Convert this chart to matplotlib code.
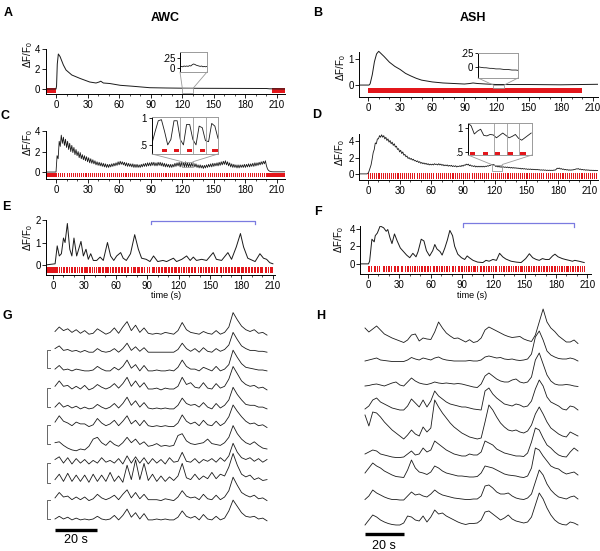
import numpy as np
import matplotlib.pyplot as plt
from matplotlib.patches import Rectangle, ConnectionPatch

plt.rcParams['font.family'] = ['Liberation Sans', 'DejaVu Sans']
plt.rcParams['mathtext.default'] = 'regular'
plt.rcParams['font.size'] = 7

RED = '#e3161b'
INK = '#1a1a1a'
GRAY = '#9a9a9a'
BLUE = '#7b7be0'

# ---------------- data ----------------
# A: AWC, odor removal at 0 s
a_t = [-10, 0, 0.5, 1.2, 2.2, 3.8, 7, 9.5, 15, 23, 32, 38, 41, 42.5, 45, 51, 61, 73.5,
       89, 105, 121, 137, 168, 200, 203, 218]
a_v = [0, 0, 0.3, 2.5, 3.5, 3.25, 2.4, 1.9, 1.4, 1.05, 0.7, 0.6, 0.7, 0.78, 0.6, 0.55, 0.37, 0.27,
       0.13, 0.1, 0.08, 0.07, 0.06, 0.05, 0.02, 0]
a_stim = [(-10, 10), (205, 13)]
a_inset = [0.03, 0.04, 0.03, 0.05, 0.04, 0.05, 0.04, 0.06, 0.05, 0.08, 0.1,
           0.09, 0.07, 0.06, 0.05, 0.04, 0.05, 0.03, 0.04, 0.03, 0.04]

# B: ASH, odor on 0-200 s
b_t = [-8.4, 1, 2, 4, 6, 8, 10, 12, 15, 20, 25, 30, 35, 40, 45, 50, 60, 70, 80, 90, 95, 98,
       102, 110, 120, 150, 180, 215]
b_v = [0, 0, 0.05, 0.4, 0.9, 1.2, 1.3, 1.22, 1.1, 0.88, 0.72, 0.6, 0.45, 0.35, 0.26, 0.19,
       0.12, 0.08, 0.06, 0.04, 0.06, 0.08, 0.06, 0.04, 0.02, 0.02, 0.01, 0.03]
b_stim = [(0, 200)]
b_inset = [0.01, 0, -0.005, -0.01, -0.01, -0.015, -0.02, -0.02, -0.025, -0.03, -0.03,
           -0.03, -0.035, -0.04, -0.04, -0.04, -0.045, -0.05, -0.05, -0.05, -0.055]

# C: AWC, 1 s pulses every 2 s (values per second, t = 0..218)
c_pre = [0] * 10
c_v = [0, 1.6, 1.3, 3.0, 2.5, 3.6, 2.8, 3.4, 2.6, 3.2,
       2.4, 3.0, 2.2, 2.8, 2.0, 2.6, 1.9, 2.4, 1.7, 2.2,
       1.6, 2.0, 1.4, 1.9, 1.3, 1.7, 1.2, 1.6, 1.1, 1.5,
       1.0, 1.4, 0.9, 1.3, 0.85, 1.2, 0.8, 1.1, 0.7, 1.0,
       0.65, 0.95, 0.6, 0.9, 0.55, 0.85, 0.5, 0.8, 0.45, 0.75,
       0.45, 0.75, 0.5, 0.8, 0.55, 0.85, 0.6, 0.9, 0.65, 1.0,
       0.7, 1.05, 0.75, 1.0, 0.7, 0.95, 0.6, 0.9, 0.55, 0.85,
       0.55, 0.8, 0.5, 0.8, 0.45, 0.75, 0.45, 0.75, 0.45, 0.7,
       0.45, 0.75, 0.5, 0.8, 0.55, 0.85, 0.55, 0.9, 0.6, 0.9,
       0.6, 0.95, 0.65, 0.95, 0.6, 0.9, 0.6, 0.95, 0.65, 0.95,
       0.6, 0.9, 0.55, 0.85, 0.5, 0.8, 0.5, 0.75, 0.45, 0.75,
       0.45, 0.75, 0.5, 0.85, 0.55, 0.9, 0.6, 0.95, 0.5, 0.95,
       0.5, 0.95, 0.48, 1.0, 0.5, 0.9, 0.5, 0.85, 0.5, 0.9,
       0.55, 0.85, 0.5, 0.8, 0.45, 0.7, 0.4, 0.7, 0.4, 0.65,
       0.35, 0.65, 0.4, 0.7, 0.45, 0.75, 0.5, 0.8, 0.5, 0.85,
       0.55, 0.85, 0.6, 0.9, 0.6, 0.95, 0.65, 1.0, 0.7, 1.05,
       0.75, 1.1, 0.7, 1.0, 0.6, 0.9, 0.5, 0.8, 0.45, 0.75,
       0.45, 0.7, 0.4, 0.7, 0.4, 0.7, 0.45, 0.7, 0.45, 0.75,
       0.45, 0.75, 0.5, 0.8, 0.5, 0.8, 0.55, 0.85, 0.55, 0.9,
       0.6, 0.9, 0.65, 0.95, 0.7, 1.0, 0.75, 1.05, 0.8, 1.1,
       0.6, 0.3, 0.15, 0.08, 0.05, 0.03, 0.02, 0.02, 0.02, 0.02,
       0.02, 0.02, 0.02, 0.02, 0.02, 0.02, 0.02, 0.02, 0.02]
c_solid = [(-10, 10), (200, 18)]
c_train = (0, 200)
c_in = [0.53, 0.75, 0.95, 0.97, 0.75, 0.5, 0.6, 0.95, 0.95, 0.6, 0.5,
        0.88, 0.88, 0.6, 0.5, 0.85, 0.82, 0.58, 0.56, 0.9, 0.85, 0.62]
c_in_pulses = [1.6, 3.5, 5.55, 7.6, 9.6]
c_in_marks = [4.53, 6.56, 8.53]

# D: ASH, same pulse train (values per second, t = 0..218)
d_pre = [0] * 8
d_v = [0.05, 0.3, 0.7, 1.1, 1.8, 2.6, 3.0, 3.8, 3.7, 4.3,
       4.3, 4.7, 4.5, 4.8, 4.5, 4.7, 4.3, 4.5, 4.1, 4.3,
       3.9, 4.1, 3.7, 3.9, 3.5, 3.7, 3.3, 3.4, 3.0, 3.1,
       2.7, 2.9, 2.5, 2.7, 2.3, 2.4, 2.1, 2.2, 1.9, 2.0,
       1.8, 1.9, 1.7, 1.8, 1.6, 1.65, 1.5, 1.6, 1.4, 1.5,
       1.3, 1.4, 1.25, 1.35, 1.2, 1.3, 1.15, 1.25, 1.1, 1.2,
       1.1, 1.2, 1.1, 1.25, 1.15, 1.2, 1.1, 1.25, 1.1, 1.2,
       1.05, 1.15, 1.0, 1.1, 1.0, 1.1, 0.95, 1.05, 0.95, 1.05,
       0.9, 1.0, 0.9, 1.0, 0.85, 0.95, 0.9, 1.0, 0.9, 1.05,
       0.95, 1.1, 1.05, 1.2, 1.1, 1.2, 1.0, 1.1, 0.95, 1.0,
       0.9, 1.0, 0.85, 0.95, 0.85, 0.95, 0.85, 0.95, 0.85, 0.95,
       0.85, 0.95, 0.9, 1.0, 0.95, 1.05, 1.05, 1.15, 1.1, 1.15,
       1.05, 0.9, 0.98, 0.85, 0.95, 0.82, 0.9, 0.78, 0.88, 0.8,
       0.85, 0.78, 0.85, 0.75, 0.82, 0.72, 0.8, 0.7, 0.78, 0.7,
       0.75, 0.68, 0.72, 0.65, 0.7, 0.6, 0.68, 0.6, 0.65, 0.58,
       0.62, 0.55, 0.6, 0.55, 0.6, 0.52, 0.58, 0.52, 0.56, 0.5,
       0.55, 0.5, 0.52, 0.46, 0.5, 0.45, 0.5, 0.44, 0.48, 0.42,
       0.46, 0.42, 0.46, 0.42, 0.45, 0.42, 0.48, 0.45, 0.55, 0.7,
       0.65, 0.72, 0.6, 0.65, 0.55, 0.6, 0.5, 0.55, 0.48, 0.52,
       0.45, 0.5, 0.45, 0.5, 0.48, 0.55, 0.55, 0.62, 0.6, 0.65,
       0.55, 0.6, 0.5, 0.55, 0.48, 0.52, 0.45, 0.5, 0.45, 0.48,
       0.42, 0.46, 0.42, 0.45, 0.4, 0.44, 0.4, 0.42, 0.4]
d_train = (0, 218)
d_in = [1.1, 1.04, 0.87, 0.93, 0.97, 0.84, 0.83, 0.86, 0.85, 0.79, 0.84,
        0.89, 0.84, 0.79, 0.82, 0.86, 0.78, 0.74, 0.79, 0.84, 0.89]
d_in_pulses = [0.27, 2.3, 4.27, 6.24, 8.27]
d_in_marks = [4.1, 6.13, 8.1]

PULSE_PERIOD = 2
PULSE_WIDTH = 1

# E: AWC, pseudo-random odor sequence
e_t = [-7, 2, 4, 6, 8, 10, 11.5, 13.7, 16, 18, 20, 22.6, 26.7, 29, 31.5, 33.7, 36, 38.5, 41.7,
       45, 48, 52, 55, 58, 60.8, 64.6, 67, 70, 74, 78, 81.5, 84.6, 89, 92.6, 96, 100, 105,
       108.5, 115, 118, 123, 127.6, 131, 134, 137, 142, 146.7, 153, 156, 161, 167, 170.5,
       175, 179, 182, 186, 193, 197.6, 201, 204, 207, 210]
e_v = [0, 0.05, 0.85, 0.4, 0.5, 1.2, 1.0, 1.85, 0.7, 0.4, 1.2, 0.4, 1.05, 0.4, 0.7, 0.25,
       0.5, 0.2, 0.2, 0.35, 0.2, 1.0, 0.4, 0.2, 0.4, 0.55, 0.3, 0.2, 0.5, 1.35, 0.7, 0.3,
       0.25, 0.15, 0.4, 0.15, 0.2, 0.15, 0.3, 0.15, 0.25, 0.4, 0.2, 0.35, 0.2, 0.25, 0.2,
       0.55, 0.25, 0.2, 0.55, 0.25, 0.8, 1.4, 0.8, 0.3, 0.15, 0.5, 0.3, 0.25, 0.1, 0.05]
e_span = (-7, 210)
e_off = [5, 7, 9, 11, 14, 16, 19, 22, 24, 26, 29, 33, 36, 38, 40, 42, 46, 49, 53, 55, 58,
         61, 64, 67, 70, 73, 75, 79, 83, 86, 88, 89, 91, 93, 94, 97, 99, 102, 105, 109,
         112, 115, 118, 121, 123, 126, 128, 131, 134, 137, 139, 142, 144, 147, 150, 153,
         155, 158, 161, 163, 166, 169, 172, 175, 179, 182, 185, 188, 191, 194, 197, 201,
         204, 206]
e_bracket = (93.5, 193, 1.96)

# F: ASH, pseudo-random odor sequence
f_t = [-7.6, 0.5, 1.6, 3.8, 6, 7, 9, 11.7, 15, 17.5, 19, 21, 23, 25.4, 28, 31, 34, 37, 40,
       43, 46, 48, 51, 53.6, 56, 59, 62, 64, 66, 69, 71, 73.6, 76, 78.4, 81, 83, 86, 89.5,
       92.6, 95, 97, 100.6, 105, 110, 113, 116, 119.6, 123, 126, 129, 132, 137, 142,
       146.6, 151, 154.5, 157.7, 161, 164, 167, 170, 173.5, 176.7, 179, 182, 186, 189,
       192.6, 195.8, 198, 202, 207]
f_v = [0, 0, 0.3, 2.8, 2.5, 3.2, 3.5, 4.3, 4.1, 3.7, 3.9, 3.0, 2.3, 3.4, 2.6, 1.8, 1.4,
       1.0, 0.7, 1.2, 0.8, 1.4, 2.8, 2.6, 1.5, 0.9, 1.5, 2.2, 1.7, 1.4, 1.0, 1.8, 2.7, 3.8,
       3.2, 2.0, 1.1, 0.7, 0.5, 0.9, 0.7, 0.4, 0.2, 0.15, 0.4, 0.3, 0.5, 0.4, 1.2, 0.8,
       0.55, 0.3, 0.2, 0.15, 0.6, 1.15, 0.7, 0.5, 0.4, 0.6, 0.5, 0.5, 0.9, 1.1, 0.8, 0.6,
       0.5, 0.4, 0.3, 0.4, 0.3, 0.15]
f_span = (0, 208)
f_off = [2, 4, 5, 8, 10, 12, 13, 16, 18, 21, 23, 24, 27, 30, 31, 34, 36, 39, 41, 43, 46,
         48, 50, 53, 56, 58, 60, 61, 64, 67, 69, 72, 74, 77, 79, 82, 84, 85, 88, 91, 93,
         95, 98, 100, 103, 105, 106, 109, 112, 114, 117, 119, 121, 124, 126, 128, 131,
         133, 136, 138, 140, 143, 145, 148, 150, 152, 155, 157, 160, 162, 165, 167, 169,
         172, 174, 177, 180, 182, 184, 187, 189, 192, 194, 197, 199, 202, 204, 206]
f_bracket = (90.7, 197.6, 4.6)

# G: AWC, 11 repeated trials (bracket units), sampled every 2 s over 100 s
g_t = np.arange(0, 101, 2)
g_traces = [
    [0.25, 0.5, 0.3, 0.4, 0.2, 0.35, 0.15, 0.3, 0.1, 0.15, 0.4, 0.25, 0.1, 0.2, 0.45, 0.15, 0.5,
     0.8, 0.3, 0.6, 0.2, 0.45, 0.15, 0.1, 0.15, 0.1, 0.2, 0.15, 0.1, 0.3, 0.75, 0.35, 0.2,
     0.15, 0.1, 0.25, 0.15, 0.1, 0.3, 0.1, 0.2, 0.5, 1.3, 0.9, 0.55, 0.35, 0.25, 0.35, 0.15,
     0.2, 0.05],
    [0.3, 0.45, 0.2, 0.25, 0.15, 0.2, 0.1, 0.2, 0.1, 0.1, 0.3, 0.15, 0.1, 0.15, 0.3, 0.1, 0.3,
     0.6, 0.2, 0.4, 0.15, 0.35, 0.1, 0.1, 0.1, 0.1, 0.1, 0.1, 0.1, 0.25, 0.6, 0.3, 0.15, 0.3,
     0.1, 0.35, 0.15, 0.1, 0.3, 0.15, 0.25, 0.5, 1.2, 0.8, 0.45, 0.3, 0.2, 0.2, 0.15, 0.15, 0.1],
    [0.2, 0.4, 0.15, 0.2, 0.1, 0.2, 0.15, 0.1, 0.1, 0.15, 0.35, 0.2, 0.1, 0.1, 0.3, 0.15, 0.35,
     0.7, 0.25, 0.45, 0.1, 0.4, 0.1, 0.1, 0.15, 0.1, 0.1, 0.15, 0.1, 0.3, 0.7, 0.35, 0.2, 0.2,
     0.1, 0.3, 0.2, 0.1, 0.35, 0.1, 0.2, 0.45, 1.25, 0.85, 0.5, 0.3, 0.25, 0.2, 0.15, 0.15, 0.1],
    [0.3, 0.6, 0.3, 0.35, 0.15, 0.3, 0.15, 0.35, 0.1, 0.2, 0.4, 0.25, 0.15, 0.25, 0.45, 0.2,
     0.45, 0.8, 0.3, 0.6, 0.25, 0.5, 0.15, 0.15, 0.2, 0.1, 0.2, 0.15, 0.15, 0.3, 0.8, 0.4, 0.5,
     0.25, 0.2, 0.5, 0.2, 0.15, 0.45, 0.2, 0.3, 0.7, 1.4, 1.0, 0.6, 0.4, 0.3, 0.35, 0.2, 0.25, 0.1],
    [0.2, 0.45, 0.2, 0.3, 0.15, 0.25, 0.1, 0.2, 0.1, 0.15, 0.35, 0.2, 0.1, 0.2, 0.4, 0.15, 0.4,
     0.75, 0.3, 0.55, 0.2, 0.45, 0.15, 0.1, 0.15, 0.1, 0.15, 0.1, 0.1, 0.3, 0.7, 0.4, 0.3, 0.35,
     0.2, 0.45, 0.2, 0.1, 0.4, 0.15, 0.3, 0.6, 1.3, 0.9, 0.6, 0.35, 0.3, 0.3, 0.2, 0.2, 0.1],
    [0.4, 0.75, 0.45, 0.35, 0.2, 0.4, 0.3, 0.3, 0.15, 0.25, 0.6, 0.35, 0.2, 0.3, 0.5, 0.2, 0.45,
     0.75, 0.3, 0.5, 0.2, 0.5, 0.2, 0.15, 0.2, 0.15, 0.2, 0.15, 0.15, 0.35, 0.8, 0.45, 0.3, 0.4,
     0.2, 0.5, 0.25, 0.2, 0.45, 0.2, 0.35, 0.7, 1.35, 1.0, 0.7, 0.45, 0.3, 0.35, 0.2, 0.25, 0.1],
    [0.5, 0.55, 0.35, 0.2, 0.1, 0.05, 0.15, 0.1, 0.3, 0.7, 0.8, 0.5, 0.35, 0.6, 0.4, 0.3, 0.5,
     0.8, 0.5, 0.7, 0.4, 0.55, 0.3, 0.35, 0.45, 0.3, 0.35, 0.3, 0.35, 0.9, 1.0, 0.6, 0.45, 0.4,
     0.45, 0.5, 0.7, 0.45, 0.4, 0.35, 0.5, 0.8, 1.45, 1.0, 0.7, 0.5, 0.4, 0.55, 0.35, 0.2, 0.15],
    [0.4, 0.55, 0.2, 0.5, 0.15, 0.45, 0.2, 0.4, 0.15, 0.35, 0.2, 0.5, 0.25, 0.35, 0.2, 0.45,
     0.15, 0.6, 0.2, 0.55, 0.2, 0.5, 0.15, 0.45, 0.2, 0.4, 0.15, 0.5, 0.25, 0.3, 0.8, 0.3, 0.25,
     0.45, 0.2, 0.4, 0.3, 0.45, 0.25, 0.5, 0.3, 0.6, 1.3, 0.8, 0.5, 0.4, 0.5, 0.3, 0.45, 0.25, 0.4],
    [0.3, 0.6, 0.2, 0.65, 0.2, 0.55, 0.2, 0.55, 0.15, 0.6, 0.2, 0.55, 0.2, 0.7, 0.2, 0.5, 0.15,
     1.1, 0.3, 1.4, 0.3, 1.2, 0.25, 0.6, 0.2, 0.5, 0.2, 0.45, 0.25, 0.5, 1.2, 0.4, 0.3, 0.6,
     0.3, 0.5, 0.35, 0.7, 0.35, 0.6, 0.5, 1.0, 1.75, 1.1, 0.6, 0.45, 0.55, 0.3, 0.4, 0.25, 0.3],
    [0.3, 0.6, 0.35, 0.4, 0.2, 0.35, 0.2, 0.35, 0.15, 0.25, 0.5, 0.3, 0.2, 0.3, 0.45, 0.2, 0.5,
     0.75, 0.3, 0.6, 0.25, 0.5, 0.2, 0.2, 0.2, 0.15, 0.25, 0.2, 0.15, 0.35, 0.7, 0.4, 0.3, 0.35,
     0.2, 0.5, 0.25, 0.2, 0.45, 0.2, 0.35, 0.7, 1.45, 1.0, 0.6, 0.45, 0.35, 0.45, 0.25, 0.3, 0.15],
    [0.15, 0.3, 0.15, 0.25, 0.1, 0.2, 0.1, 0.15, 0.1, 0.15, 0.3, 0.15, 0.1, 0.15, 0.35, 0.1,
     0.35, 0.7, 0.25, 0.5, 0.15, 0.45, 0.1, 0.1, 0.15, 0.1, 0.15, 0.1, 0.1, 0.25, 0.6, 0.3, 0.2,
     0.3, 0.1, 0.4, 0.15, 0.1, 0.3, 0.1, 0.2, 0.6, 1.2, 0.85, 0.5, 0.3, 0.25, 0.3, 0.15, 0.2, 0.05],
]

# H: ASH, 9 repeated trials (a.u.), sampled every 2 s over 110 s
h_t = np.arange(0, 111, 2)
h_traces = [
    [16, 12, 15, 18, 14, 10, 8, 6, 4.5, 3, 1.5, 4, 9, 10, 3, 6, 5, 4.5, 12, 22, 16, 11, 8, 5.5,
     6, 4, 2, 4.3, 1.5, 2.5, 6, 14, 17, 15, 13, 11, 9, 7.5, 6.5, 7, 7.5, 5, 3.5, 2.5, 9, 22, 35,
     22, 16, 12.5, 8, 5, 2, 2, 4, 0.5],
    [1, 2, 3, 4, 2, 1.5, 1, 0.5, 0.5, 0.5, 0.5, 2, 4.5, 3, 2, 4, 3, 2, 4, 5, 3, 2, 1.5, 1, 1, 1,
     1, 1.5, 1, 1, 2, 5, 6, 5, 4, 4.5, 3, 2.5, 3, 2, 1.5, 2, 3, 8, 25, 31, 22, 11, 7, 5, 3.5, 3,
     3, 4, 3, 1],
    [2, 2.5, 3.5, 4, 3, 2, 3.5, 5, 6, 3, 2, 6, 10, 7, 5, 4, 3.5, 4.5, 6, 5, 4.5, 5, 4.5, 4, 4.5,
     4, 3, 2, 1, 0.5, 4, 12, 15, 12, 9, 7, 6, 6, 8, 9, 6, 5, 6, 11, 28, 35, 24, 13, 7, 4, 3, 3,
     3.5, 3, 2, 1.5],
    [2, 5, 11, 13, 9, 7, 5, 3, 2, 1, 1, 5, 12, 8, 4, 11, 4, 10, 20, 15, 12, 9, 7, 6, 5, 4, 4, 3,
     2, 1.5, 1, 20, 23, 17, 13, 10, 7, 6, 5, 7, 6, 4, 5, 10, 22, 31, 25, 14, 9, 7, 5, 2, 1, 5,
     4, 1],
    [25, 14, 28, 27, 23, 18, 14, 10, 7, 4, 1, 5, 10, 6, 4, 13, 8, 12, 40, 33, 27, 22, 17, 13,
     10, 7, 5, 3, 2, 1, 2, 18, 35, 30, 23, 17, 13, 10, 9, 10, 8, 7, 9, 15, 26, 33, 26, 18, 12,
     9, 6, 4, 3, 8, 6, 4],
    [4, 6, 8, 7, 4, 3, 2, 1, 0.5, 0.5, 1, 4, 7, 3, 4, 10, 6, 8, 17, 14, 11, 8, 6, 4, 3, 2, 2, 4,
     3, 3, 6, 17, 15, 13, 9, 7, 5, 4, 3, 2, 2, 1.5, 5, 16, 30, 28, 20, 13, 10, 6, 3, 1.5, 1, 6,
     10, 7],
    [5, 10, 15, 12, 10, 7, 5, 3, 1.5, 1, 0.5, 8, 18, 10, 6, 5, 3.5, 6, 12, 10, 7, 5, 4, 3, 2, 2,
     1.5, 1, 1, 1.5, 5, 12, 11, 10, 8, 6, 4, 3, 2.5, 2, 1, 0.5, 2, 10, 30, 28, 22, 17, 12, 10,
     9, 6, 4, 5, 6, 3],
    [0.5, 4, 10, 7, 5, 3, 1.5, 0.5, 0.5, 0, 0, 4, 8, 5, 6, 4, 3, 6, 10, 7, 5, 4, 3, 2, 1.5, 1,
     0.5, 0.5, 1, 1, 4, 14, 15, 12, 8, 6, 6, 7, 4, 2, 1, 0.5, 2, 6, 18, 30, 25, 16, 10, 6, 3,
     2, 1, 3, 4, 1],
    [0, 5, 10, 8, 5, 3, 1.5, 0.5, 0, 0, 2, 9, 8, 5, 4, 9, 3, 8, 15, 11, 12, 9, 7, 5, 3, 1.5,
     0.5, 1.5, 1.5, 2, 5, 13, 14, 11, 8, 5, 7, 10, 6, 4, 3, 2, 3, 8, 20, 32, 26, 17, 10, 5, 2,
     0.5, 0, 3, 2, 0],
]

# ---------------- layout (pixels of the 600 x 551 canvas) ----------------
W, H = 600, 551
fig = plt.figure(figsize=(W / 100, H / 100), dpi=100)


def px_axes(x0, y0, x1, y1):
    return fig.add_axes([x0 / W, 1 - y1 / H, (x1 - x0) / W, (y1 - y0) / H])


def px_text(x, y, s, **kw):
    fig.text(x / W, 1 - y / H, s, **kw)


def style_axes(ax, yticks):
    for side in ['top', 'right']:
        ax.spines[side].set_visible(False)
    for side in ['left', 'bottom']:
        ax.spines[side].set_linewidth(0.7)
    ax.set_xticks(range(0, 211, 30))
    ax.set_xticks(range(0, 211, 10), minor=True)
    ax.set_yticks(yticks)
    ax.tick_params(length=3, width=0.6, pad=1.5, labelsize=7)
    ax.tick_params(which='minor', length=1.5, width=0.5)
    ax.tick_params(axis='y', pad=0.8)


def add_inset(ax, box, xs, ys, ylim, yticks, ylabels, zoom_box):
    ins = px_axes(*box)
    ins.plot(xs, ys, color=INK, lw=0.6)
    ins.set_xlim(xs[0], xs[-1])
    ins.set_ylim(*ylim)
    ins.set_xticks([])
    ins.set_yticks(yticks)
    ins.set_yticklabels(ylabels)
    ins.tick_params(length=2.5, width=0.6, pad=1, labelsize=7)
    for side in ['top', 'right', 'bottom']:
        ins.spines[side].set_color(GRAY)
        ins.spines[side].set_linewidth(0.7)
    ins.spines['left'].set_linewidth(0.7)
    t0, t1, v0, v1 = zoom_box
    ax.add_patch(Rectangle((t0, v0), t1 - t0, v1 - v0, fill=False, ec=GRAY, lw=0.6, zorder=4))
    for fx, tx in [(0, t0), (1, t1)]:
        fig.add_artist(ConnectionPatch(xyA=(fx, 0), coordsA='axes fraction', axesA=ins,
                                       xyB=(tx, v1), coordsB='data', axesB=ax,
                                       color=GRAY, lw=0.6))
    return ins


def pulse_train(ax, span, y0, h):
    onsets = np.arange(span[0], span[1], PULSE_PERIOD)
    ax.broken_barh([(s, PULSE_WIDTH) for s in onsets], (y0, h), facecolor=RED, lw=0)


def random_train(ax, span, off, y0, h):
    on = [s for s in range(span[0], span[1]) if s not in off]
    ax.broken_barh([(s, 1) for s in on], (y0, h), facecolor=RED, lw=0)


# ---- A ----
axA = px_axes(45.5, 46, 285.4, 94)
axA.broken_barh(a_stim, (-0.42, 0.5), facecolor=RED, lw=0)
axA.plot(a_t, a_v, color=INK, lw=0.7)
axA.set_xlim(-10, 218)
axA.set_ylim(-0.5, 4.3)
style_axes(axA, [0, 2, 4])
axA.spines['left'].set_bounds(-0.5, 4)
add_inset(axA, (180, 52, 207, 72), np.arange(120, 130.1, 0.5), a_inset,
          (-0.1, 0.4), [0, 0.25], ['0', '.25'], (120, 130.5, -0.35, 0.1))

# ---- B ----
axB = px_axes(359, 50, 598.4, 97)
axB.broken_barh(b_stim, (-0.31, 0.19), facecolor=RED, lw=0)
axB.plot(b_t, b_v, color=INK, lw=0.7)
axB.set_xlim(-8.4, 215)
axB.set_ylim(-0.46, 1.35)
style_axes(axB, [0, 1])
axB.spines['left'].set_bounds(-0.46, 1.27)
add_inset(axB, (478, 53, 518, 78), np.arange(120, 130.1, 0.5), b_inset,
          (-0.19, 0.25), [0, 0.25], ['0', '.25'], (117, 127, -0.11, 0.0))

# ---- C ----
axC = px_axes(45.5, 129, 285.4, 179)
axC.broken_barh(c_solid, (-0.5, 0.4), facecolor=RED, lw=0)
pulse_train(axC, c_train, -0.5, 0.4)
axC.plot(np.arange(-10, 219), c_pre + c_v, color=INK, lw=0.6)
axC.set_xlim(-10, 218)
axC.set_ylim(-0.68, 4.2)
style_axes(axC, [0, 2, 4])
axC.spines['left'].set_bounds(-0.68, 4)
insC = add_inset(axC, (152, 117, 218, 154), np.arange(0, 10.6, 0.5), c_in,
                 (0.33, 1.02), [0.5, 1], ['.5', '1'], (120, 130, 0.45, 1.0))
insC.broken_barh([(s, 0.85) for s in c_in_pulses], (0.36, 0.065), facecolor=RED, lw=0)
for m in c_in_marks:
    insC.axvline(m, color=GRAY, lw=0.6)

# ---- D ----
axD = px_axes(359, 134, 598.4, 180)
pulse_train(axD, d_train, -0.65, 0.75)
axD.plot(np.arange(-8, 219), d_pre + d_v, color=INK, lw=0.6)
axD.set_xlim(-8.4, 218)
axD.set_ylim(-0.75, 4.9)
style_axes(axD, [0, 2, 4])
axD.spines['left'].set_bounds(-0.75, 4.9)
insD = add_inset(axD, (468, 123, 532, 155), np.arange(0, 10.1, 0.5), d_in,
                 (0.43, 1.1), [0.5, 1], ['.5', '1'], (117, 127, 0.4, 1.15))
insD.set_xlim(0, 10.13)
insD.broken_barh([(s, 0.85) for s in d_in_pulses], (0.44, 0.06), facecolor=RED, lw=0)
for m in d_in_marks:
    insD.axvline(m, color=GRAY, lw=0.6)

# ---- E ----
axE = px_axes(46, 219, 275, 275)
random_train(axE, e_span, e_off, -0.36, 0.27)
axE.plot(e_t, e_v, color=INK, lw=0.7)
axE.set_xlim(-6.7, 212)
axE.set_ylim(-0.45, 2.05)
style_axes(axE, [0, 1, 2])
axE.spines['left'].set_bounds(-0.45, 2)
x0, x1, yb = e_bracket
axE.plot([x0, x0, x1, x1], [yb - 0.12, yb, yb, yb - 0.12], color=BLUE, lw=0.9, clip_on=False)

# ---- F ----
axF = px_axes(360, 226, 591, 274)
random_train(axF, f_span, f_off, -0.91, 0.68)
axF.plot(f_t, f_v, color=INK, lw=0.7)
axF.set_xlim(-7.6, 213.5)
axF.set_ylim(-1.15, 4.3)
style_axes(axF, [0, 2, 4])
axF.spines['left'].set_bounds(-1.15, 4.3)
x0, x1, yb = f_bracket
axF.plot([x0, x0, x1, x1], [yb - 0.45, yb, yb, yb - 0.45], color=BLUE, lw=0.9, clip_on=False)

# ---- G ----
g_base = [336, 354, 372.7, 391.7, 410.7, 429.3, 451.7, 466.7, 485, 503.3, 521.7]
g_unit = 18
g_brackets = [(350, 368), (388, 407), (425, 444), (463, 483), (500, 519)]
axG = px_axes(40, 300, 270, 551)
axG.set_xlim((40 - 55) / 2.12, (270 - 55) / 2.12)
axG.set_ylim(551, 300)
axG.axis('off')
for base, vals in zip(g_base, g_traces):
    axG.plot(g_t, base - np.array(vals) * g_unit, color=INK, lw=0.6)
for y1, y2 in g_brackets:
    axG.plot([-2.36, -3.77, -3.77, -2.36], [y1, y1, y2, y2], color='#666666', lw=0.7)
axG.plot([0, 20], [530, 530], color='black', lw=2.4, solid_capstyle='butt')
axG.text(10, 540, '20 s', ha='center', va='center', fontsize=9)

# ---- H ----
h_base = [344, 362, 388, 411, 440, 458, 478, 500, 525]
axH = px_axes(355, 300, 590, 551)
axH.set_xlim((355 - 365) / 1.936, (590 - 365) / 1.936)
axH.set_ylim(551, 300)
axH.axis('off')
for base, vals in zip(h_base, h_traces):
    axH.plot(h_t, base - np.array(vals), color=INK, lw=0.6)
axH.plot([0, 20], [534, 534], color='black', lw=2.4, solid_capstyle='butt')
axH.text(10, 546, '20 s', ha='center', va='center', fontsize=9)

# ---- text ----
for x, y, s in [(8, 13, 'A'), (318, 13, 'B'), (5, 116, 'C'), (317, 115, 'D'),
                (6, 207, 'E'), (318, 212, 'F'), (7, 316, 'G'), (321, 316, 'H')]:
    px_text(x, y, s, fontsize=9, fontweight='bold', ha='center', va='center')
px_text(165, 18, 'AWC', fontsize=9, fontweight='bold', ha='center', va='center')
px_text(473, 18, 'ASH', fontsize=9, fontweight='bold', ha='center', va='center')
for x, y in [(28, 55), (341, 68), (28, 143), (340, 153), (28, 238), (339, 240)]:
    px_text(x, y, 'ΔF/F$_0$', fontsize=7, rotation=90, ha='center', va='center')
px_text(166, 296, 'time (s)', fontsize=6.5, ha='center', va='center')
px_text(472, 296, 'time (s)', fontsize=6.5, ha='center', va='center')

fig.savefig('out.png', dpi=100)
